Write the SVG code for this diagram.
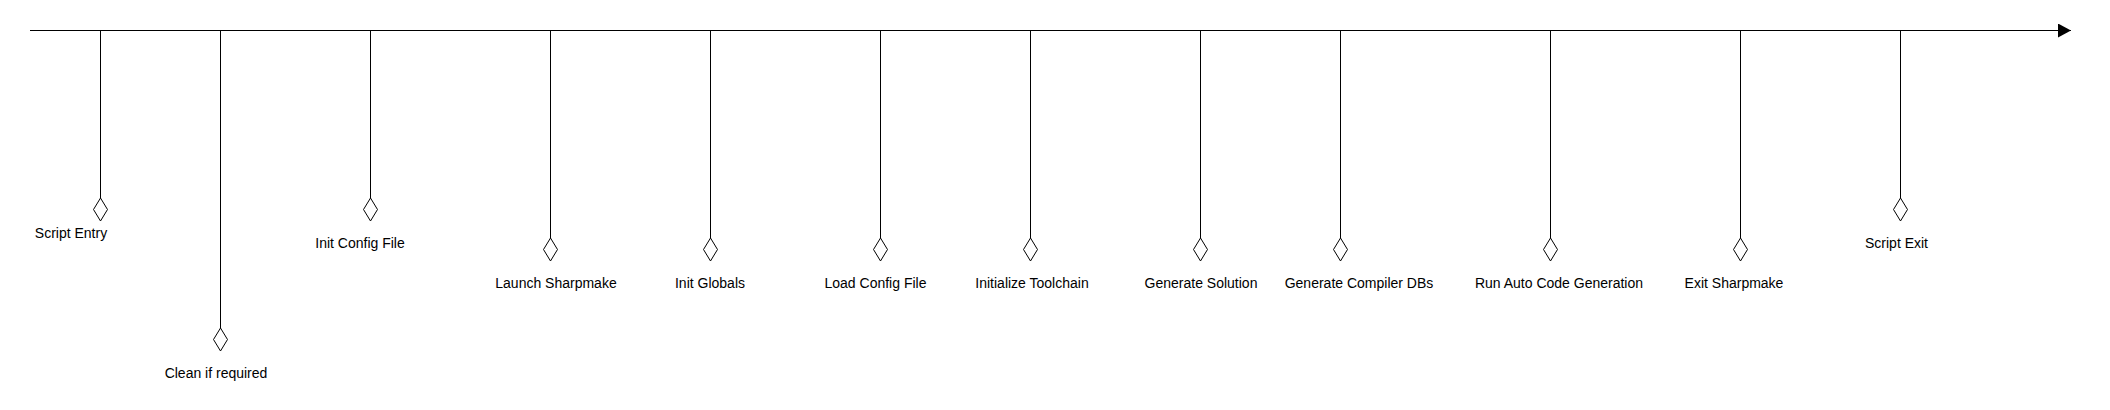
<svg xmlns="http://www.w3.org/2000/svg" width="2110" height="410" viewBox="0 0 2110 410">
<style>
.ln{stroke:#000;stroke-width:1;fill:none}
.dm{stroke:#000;stroke-width:1;fill:#fff}
.lb{font-family:"Liberation Sans",Arial,sans-serif;font-size:14px;fill:#000;text-anchor:middle}
</style>
<defs>
<marker id="arr" markerWidth="14" markerHeight="14" refX="13" refY="7" orient="auto" markerUnits="userSpaceOnUse">
<path d="M0,0 L13,7 L0,14 Z" fill="#000"/>
</marker>
<path id="dia" d="M0,0 L7,11.5 L0,23 L-7,11.5 Z"/>
</defs>
<rect width="2110" height="410" fill="#fff"/>
<g id="connectors">
<line class="ln" x1="30" y1="30.5" x2="2071" y2="30.5" marker-end="url(#arr)"/>
<line class="ln" x1="100.5" y1="30.5" x2="100.5" y2="198"/>
<line class="ln" x1="220.5" y1="30.5" x2="220.5" y2="328"/>
<line class="ln" x1="370.5" y1="30.5" x2="370.5" y2="198"/>
<line class="ln" x1="550.5" y1="30.5" x2="550.5" y2="238"/>
<line class="ln" x1="710.5" y1="30.5" x2="710.5" y2="238"/>
<line class="ln" x1="880.5" y1="30.5" x2="880.5" y2="238"/>
<line class="ln" x1="1030.5" y1="30.5" x2="1030.5" y2="238"/>
<line class="ln" x1="1200.5" y1="30.5" x2="1200.5" y2="238"/>
<line class="ln" x1="1340.5" y1="30.5" x2="1340.5" y2="238"/>
<line class="ln" x1="1550.5" y1="30.5" x2="1550.5" y2="238"/>
<line class="ln" x1="1740.5" y1="30.5" x2="1740.5" y2="238"/>
<line class="ln" x1="1900.5" y1="30.5" x2="1900.5" y2="198"/>
</g>
<g id="script-entry"><use href="#dia" class="dm" x="100.5" y="198"/><text class="lb" x="71" y="238">Script Entry</text></g>
<g id="clean"><use href="#dia" class="dm" x="220.5" y="328"/><text class="lb" x="216" y="378">Clean if required</text></g>
<g id="init-config"><use href="#dia" class="dm" x="370.5" y="198"/><text class="lb" x="360" y="248">Init Config File</text></g>
<g id="launch-sharpmake"><use href="#dia" class="dm" x="550.5" y="238"/><text class="lb" x="556" y="288">Launch Sharpmake</text></g>
<g id="init-globals"><use href="#dia" class="dm" x="710.5" y="238"/><text class="lb" x="710" y="288">Init Globals</text></g>
<g id="load-config"><use href="#dia" class="dm" x="880.5" y="238"/><text class="lb" x="875.5" y="288">Load Config File</text></g>
<g id="init-toolchain"><use href="#dia" class="dm" x="1030.5" y="238"/><text class="lb" x="1032" y="288">Initialize Toolchain</text></g>
<g id="gen-solution"><use href="#dia" class="dm" x="1200.5" y="238"/><text class="lb" x="1201" y="288">Generate Solution</text></g>
<g id="gen-compiler-dbs"><use href="#dia" class="dm" x="1340.5" y="238"/><text class="lb" x="1359" y="288">Generate Compiler DBs</text></g>
<g id="auto-codegen"><use href="#dia" class="dm" x="1550.5" y="238"/><text class="lb" x="1559" y="288">Run Auto Code Generation</text></g>
<g id="exit-sharpmake"><use href="#dia" class="dm" x="1740.5" y="238"/><text class="lb" x="1734" y="288">Exit Sharpmake</text></g>
<g id="script-exit"><use href="#dia" class="dm" x="1900.5" y="198"/><text class="lb" x="1896.5" y="248">Script Exit</text></g>
</svg>
